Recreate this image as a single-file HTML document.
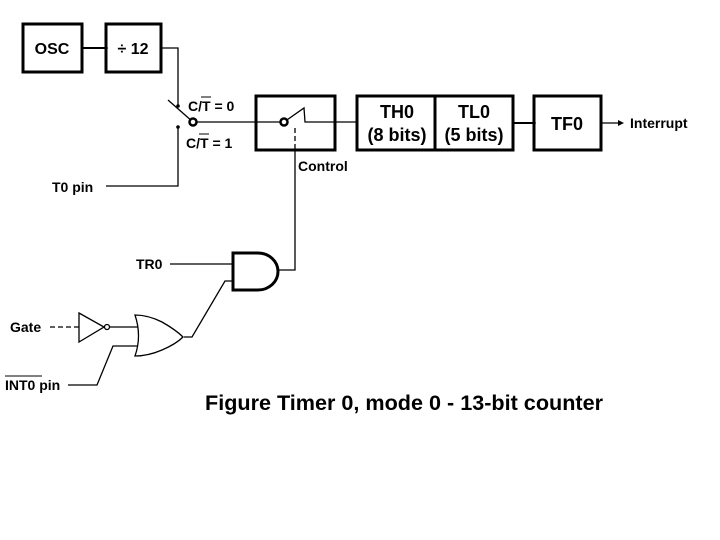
<!DOCTYPE html>
<html><head><style>body{margin:0;background:#fff}svg{display:block}text{font-family:"Liberation Sans",sans-serif;font-weight:bold;fill:#000}</style></head>
<body>
<svg width="720" height="540" viewBox="0 0 720 540">
<g fill="none" stroke="#000" stroke-width="3">
<rect x="23" y="24" width="59" height="48"/>
<rect x="106" y="24" width="55" height="48"/>
<rect x="256" y="96" width="79" height="54"/>
<rect x="357" y="96" width="156" height="54"/>
<line x1="435" y1="96" x2="435" y2="150"/>
<rect x="534" y="96" width="67" height="54"/>
<line x1="82" y1="48" x2="106" y2="48" stroke-width="2"/>
<line x1="513" y1="123" x2="534" y2="123" stroke-width="2"/>
</g>
<g fill="none" stroke="#000" stroke-width="1.3">
<polyline points="161,48 178,48 178,106"/>
<line x1="168" y1="100" x2="193" y2="122"/>
<polyline points="178,127 178,186 106,186"/>
<line x1="193" y1="122" x2="284" y2="122"/>
<polyline points="284,122 304,108 305,122 357,122"/>
<line x1="295" y1="128" x2="295" y2="150" stroke-dasharray="5,3"/>
<polyline points="295,150 295,270 277,270"/>
<line x1="601" y1="123" x2="619" y2="123"/>
<line x1="170" y1="264" x2="233" y2="264"/>
<polyline points="233,281 225,281 192,337 184,337"/>
<line x1="50" y1="327" x2="79" y2="327" stroke-dasharray="5,3"/>
<line x1="110" y1="327" x2="138" y2="327"/>
<polyline points="68,385 97,385 113,346 138,346"/>
<path d="M233,253 H258 A20,18.5 0 0 1 258,290 H233 Z" stroke-width="3"/>
<polygon points="79,313 104,327 79,342"/>
<circle cx="107" cy="327" r="2.5"/>
<path d="M135,315 Q148,315 162,322 Q176,330 183,337 Q176,344 162,350 Q148,356 135,356 Q142,336 135,315 Z"/>
</g>
<circle cx="193" cy="122" r="3.5" fill="#fff" stroke="#000" stroke-width="2.5"/>
<circle cx="284" cy="122" r="3.5" fill="#fff" stroke="#000" stroke-width="2.5"/>
<circle cx="178" cy="106" r="1.8"/><circle cx="178" cy="127" r="1.8"/>
<circle cx="106" cy="48" r="1.8"/><circle cx="534" cy="123" r="1.8"/>
<polygon points="618,120 624,123 618,126"/>
<g font-size="16">
<text x="52" y="54" text-anchor="middle">OSC</text>
<text x="133" y="54" text-anchor="middle">÷ 12</text>
</g>
<g font-size="18" font-weight="normal" text-anchor="middle">
<text x="397" y="118">TH0</text>
<text x="397" y="141">(8 bits)</text>
<text x="474" y="118">TL0</text>
<text x="474" y="141">(5 bits)</text>
<text x="567" y="130">TF0</text>
</g>
<g font-size="14">
<text x="188" y="111">C/T = 0</text>
<line x1="201" y1="97" x2="211" y2="97" stroke="#000" stroke-width="1"/>
<text x="186" y="148">C/T = 1</text>
<line x1="199" y1="134" x2="209" y2="134" stroke="#000" stroke-width="1"/>
<text x="52" y="192">T0 pin</text>
<text x="298" y="171">Control</text>
<text x="630" y="128">Interrupt</text>
<text x="136" y="269">TR0</text>
<text x="10" y="332">Gate</text>
<text x="5" y="390">INT0 pin</text>
<line x1="5" y1="376" x2="42" y2="376" stroke="#000" stroke-width="1"/>
</g>
<text x="205" y="410" font-size="21" textLength="398" lengthAdjust="spacingAndGlyphs">Figure  Timer 0,  mode 0 - 13-bit counter</text>
</svg>
</body></html>
